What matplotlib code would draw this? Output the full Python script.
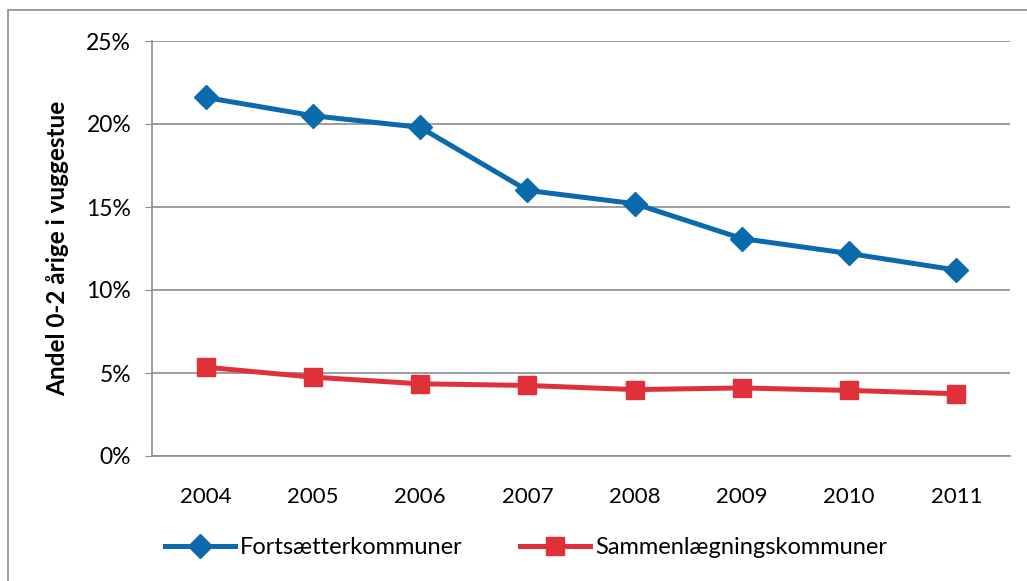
import matplotlib
matplotlib.use("Agg")
import matplotlib.pyplot as plt
from matplotlib.patches import Rectangle
from matplotlib.ticker import FuncFormatter, MultipleLocator

years = ["2004", "2005", "2006", "2007", "2008", "2009", "2010", "2011"]
fortsaetter = [21.6, 20.5, 19.8, 16.0, 15.2, 13.1, 12.2, 11.2]
sammenlaeg = [5.35, 4.75, 4.35, 4.25, 4.0, 4.1, 3.95, 3.75]
series_names = ["Fortsætterkommuner", "Sammenlægningskommuner"]
ylabel = "Andel 0-2 årige i vuggestue"

plt.rcParams['font.family'] = ['Lato', 'DejaVu Sans']

fig = plt.figure(figsize=(10.27, 5.81), dpi=100)
ax = fig.add_axes([152/1027, 1-456/581, (1010-152)/1027, (456-41)/581])

# outer frame (left and top visible)
fig.patches.append(Rectangle((8/1027, -0.01), 1.05, 1-10/581+0.01, transform=fig.transFigure,
                             fill=False, edgecolor='#8c8c8c', linewidth=1.2, zorder=0))

x = list(range(len(years)))
blue = '#0B6AAB'
red = '#E0313B'
ax.plot(x, fortsaetter, color=blue, lw=3.6, marker='D', markersize=12, label=series_names[0], zorder=3)
ax.plot(x, sammenlaeg, color=red, lw=3.6, marker='s', markersize=13, label=series_names[1], zorder=3)

ax.set_xlim(-0.5, len(years) - 0.5)
ax.set_ylim(0, 25)
ax.yaxis.set_major_locator(MultipleLocator(5))
ax.yaxis.set_major_formatter(FuncFormatter(lambda v, p: f"{v:.0f}%"))
ax.set_xticks(x)
ax.set_xticklabels(years)
ax.grid(axis='y', color='#8c8c8c', linewidth=1.2)
ax.set_axisbelow(True)
for s in ['top', 'right']:
    ax.spines[s].set_visible(False)
for s in ['left', 'bottom']:
    ax.spines[s].set_color('#8c8c8c')
    ax.spines[s].set_linewidth(1.2)
ax.tick_params(axis='x', length=0, labelsize=16, pad=22)
ax.tick_params(axis='y', length=5, color='#8c8c8c', labelsize=16.5, pad=10)
ax.set_ylabel(ylabel, fontsize=17.5, fontweight='bold', labelpad=12)

fig.legend(loc='center', bbox_to_anchor=(0.512, 1-548/581), ncol=2, frameon=False,
           fontsize=17, handlelength=3.0, columnspacing=2.4, handletextpad=0.2)

fig.savefig("out.png", dpi=100)
